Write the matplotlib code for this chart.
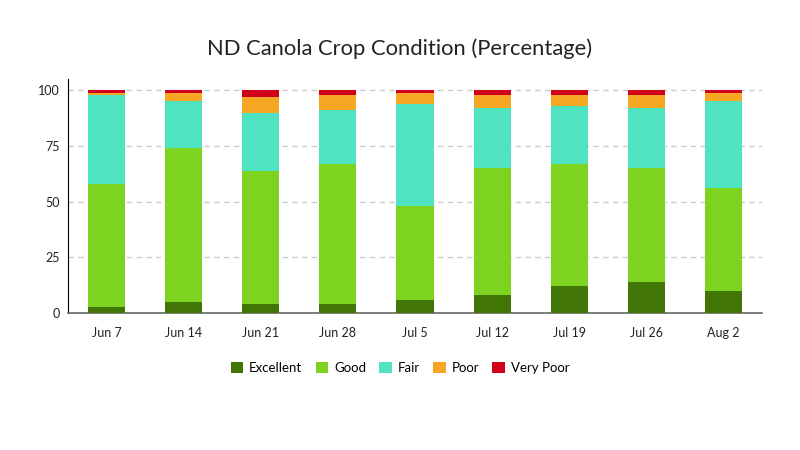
import matplotlib

matplotlib.use("Agg")
import matplotlib.pyplot as plt
import numpy as np

plt.rcParams["font.family"] = ["Lato", "DejaVu Sans"]

weeks = ["Jun 7", "Jun 14", "Jun 21", "Jun 28", "Jul 5", "Jul 12", "Jul 19", "Jul 26", "Aug 2"]
excellent = [3, 5, 4, 4, 6, 8, 12, 14, 10]
good = [55, 69, 60, 63, 42, 57, 55, 51, 46]
fair = [40, 21, 26, 24, 46, 27, 26, 27, 39]
poor = [1, 4, 7, 7, 5, 6, 5, 6, 4]
very_poor = [1, 1, 3, 2, 1, 2, 2, 2, 1]

series = [
    ("Excellent", excellent, "#417505"),
    ("Good", good, "#7ed321"),
    ("Fair", fair, "#50e3c2"),
    ("Poor", poor, "#f5a623"),
    ("Very Poor", very_poor, "#d0021b"),
]

fig = plt.figure(figsize=(8, 4.5), dpi=100)
ax = fig.add_axes([0.085, 0.304, 0.8675, 0.52])

x = np.arange(len(weeks))
bottom = np.zeros(len(weeks))
for name, vals, col in series:
    ax.bar(x, vals, 0.48, bottom=bottom, color=col, label=name, zorder=3,
           edgecolor="none")
    bottom += np.array(vals)

ax.set_xlim(-0.5, len(weeks) - 0.5)
ax.set_ylim(0, 105)
ax.set_yticks([0, 25, 50, 75, 100])
ax.set_xticks(x, weeks)
ax.tick_params(length=0, labelsize=9, colors="#222222")
ax.tick_params(axis="x", pad=10)
ax.tick_params(axis="y", pad=6)
ax.grid(axis="y", color="#cccccc", ls=(0, (4, 3)), lw=1, zorder=0)
for s in ["top", "right"]:
    ax.spines[s].set_visible(False)
ax.spines["left"].set_color("#000000")
ax.spines["bottom"].set_color("#666666")
ax.spines["bottom"].set_linewidth(1.2)

fig.suptitle("ND Canola Crop Condition (Percentage)", y=0.915, fontsize=15.8,
             color="#222222")
fig.legend(loc="center", bbox_to_anchor=(0.5, 0.183), ncol=5, frameon=False,
           fontsize=9.5, handlelength=0.95, handleheight=0.95, handletextpad=0.45,
           columnspacing=1.0)

fig.savefig("out.png", dpi=100)
